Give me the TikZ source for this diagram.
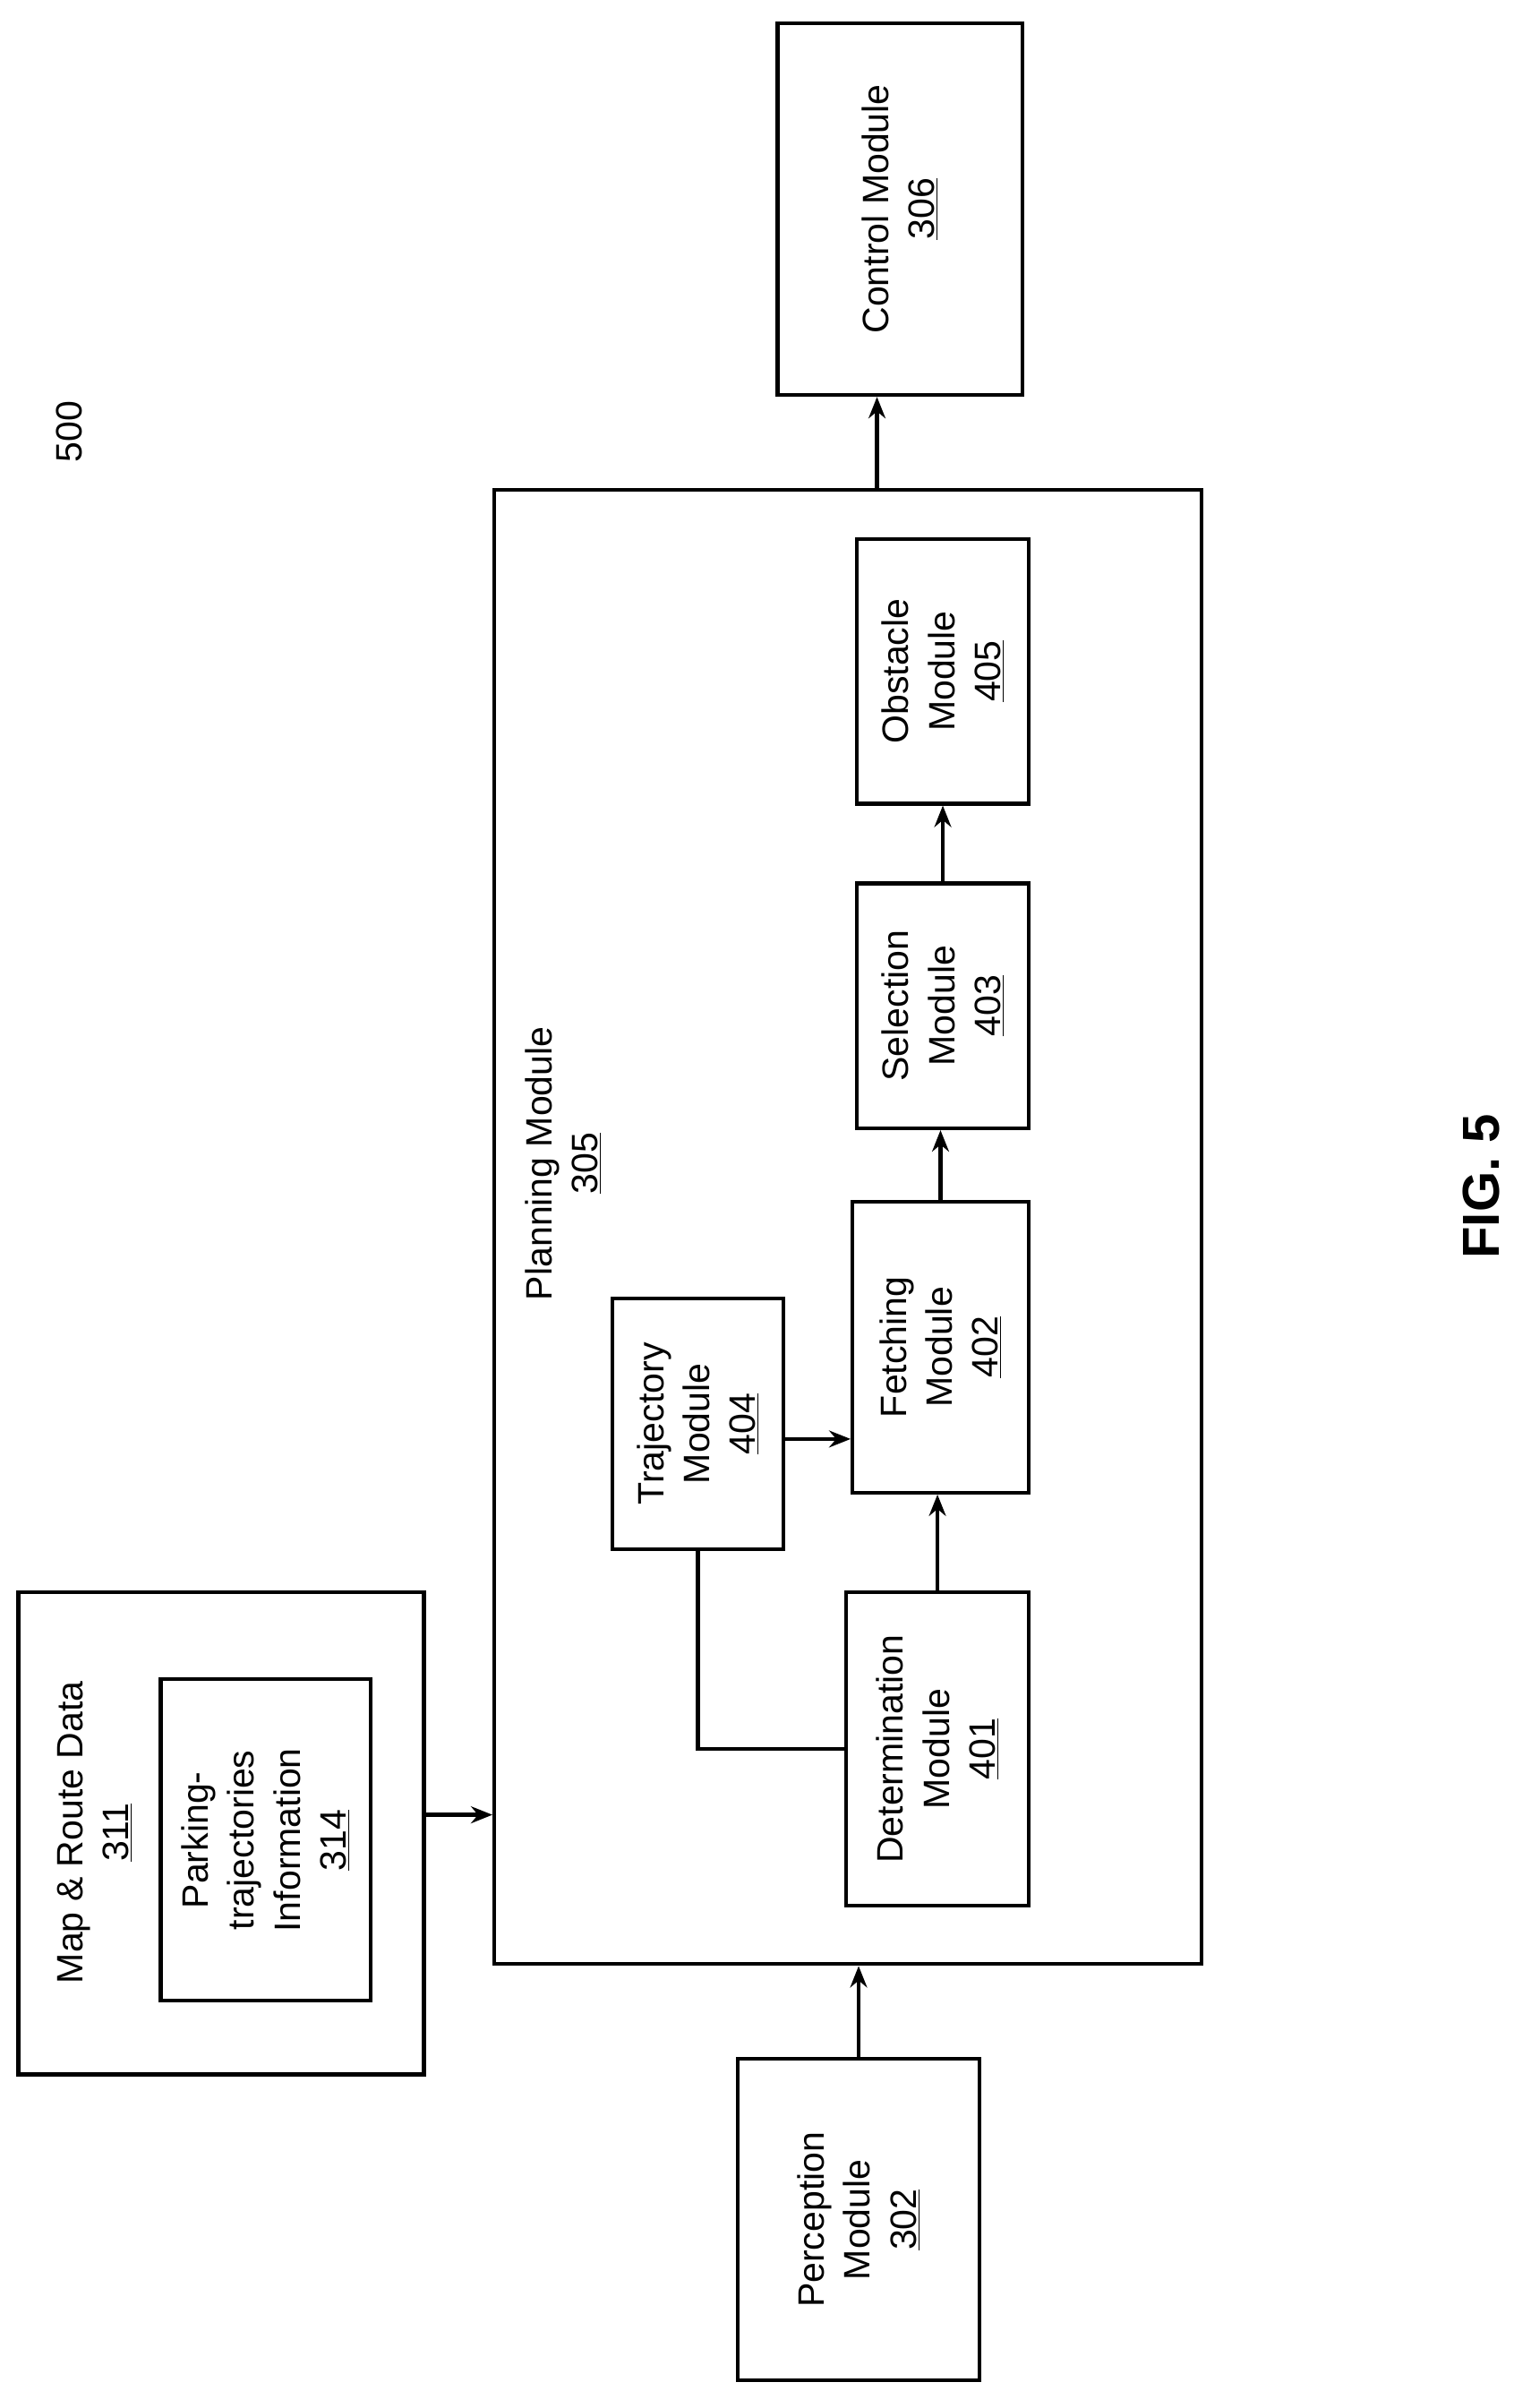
\documentclass[tikz,border=0pt]{standalone}
\usepackage{fontspec}
\setmainfont{Liberation Sans}
\usetikzlibrary{arrows.meta}
\begin{document}
\begin{tikzpicture}[x=1pt,y=-1pt,
  box/.style={draw,line width=2.5pt,inner sep=0pt},
  txt/.style={rotate=90,align=center,font=\fontsize{24}{30}\selectfont},
  arr/.style={line width=2.5pt,-{Stealth[length=14pt,width=11pt]}},
  ln/.style={line width=2.5pt}]
\useasboundingbox (0,0) rectangle (1000,1573);
\node[box,minimum width=160pt,minimum height=243pt] (ctrl) at (588,136.5) {};
\node[txt] at (ctrl) {Control Module\\\underline{306}};
\node[txt] (n500) at (45,282) {500};
\node[box,minimum width=462pt,minimum height=963pt] (plan) at (554,801.5) {};
\node[txt] (planl) at (368,760) {Planning Module\\\underline{305}};
\node[box,minimum width=112pt,minimum height=173pt] (obst) at (616,438.5) {};
\node[txt] at (obst) {Obstacle\\Module\\\underline{405}};
\node[box,minimum width=112pt,minimum height=160pt] (sel) at (616,657) {};
\node[txt] at (sel) {Selection\\Module\\\underline{403}};
\node[box,minimum width=115pt,minimum height=190pt] (fetch) at (614.5,880) {};
\node[txt] at (fetch) {Fetching\\Module\\\underline{402}};
\node[box,minimum width=112pt,minimum height=164pt] (traj) at (456,930) {};
\node[txt] at (traj) {Trajectory\\Module\\\underline{404}};
\node[box,minimum width=119pt,minimum height=205pt] (det) at (612.5,1142.5) {};
\node[txt] at (det) {Determination\\Module\\\underline{401}};
\node[box,minimum width=265pt,minimum height=315pt] (map) at (144.5,1197.5) {};
\node[txt] (mapl) at (62,1197) {Map \& Route Data\\\underline{311}};
\node[box,minimum width=137pt,minimum height=210pt] (park) at (173.5,1202) {};
\node[txt] at (park) {Parking-\\trajectories\\Information\\\underline{314}};
\node[box,minimum width=158pt,minimum height=210pt] (perc) at (561,1450) {};
\node[txt] at (perc) {Perception\\Module\\\underline{302}};
\node[rotate=90,font=\fontsize{34}{40}\selectfont\bfseries] (fig) at (968,775) {FIG. 5};
\draw[arr] (perc.north) -- (perc.north |- plan.south);
\draw[arr] ([yshift=12pt]map.east) -- ([yshift=12pt]map.east -| plan.west);
\draw[arr] (det.north) -- (det.north |- fetch.south);
\draw[arr] ([yshift=-10pt]traj.east) -- ([yshift=-10pt]traj.east -| fetch.west);
\draw[arr] (fetch.north) -- (fetch.north |- sel.south);
\draw[arr] (sel.north) -- (sel.north |- obst.south);
\draw[arr] ([xshift=-15pt]ctrl.south |- plan.north) -- ([xshift=-15pt]ctrl.south);
\draw[ln] (traj.south) |- (det.west);
\end{tikzpicture}
\end{document}
